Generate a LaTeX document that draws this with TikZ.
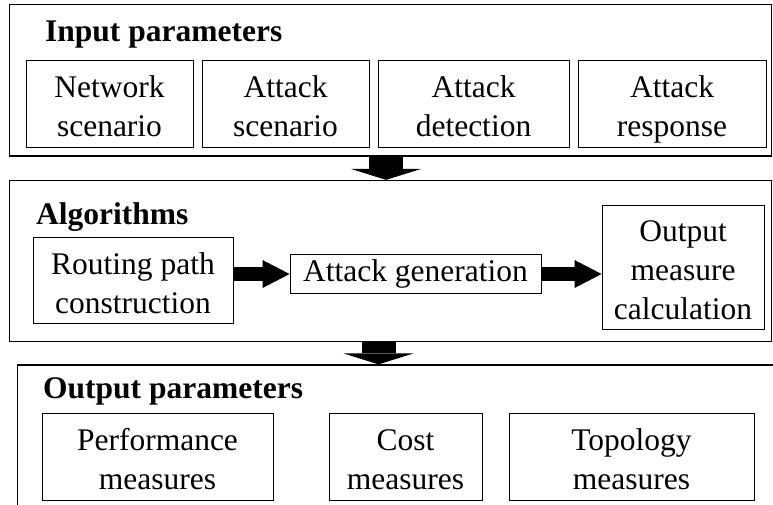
\documentclass[tikz,border=0pt]{standalone}
\usepackage{fontspec}
\setmainfont{Liberation Serif}
\usetikzlibrary{arrows.meta}
\newcommand\topst{\rule{0pt}{35pt}}
\newcommand\botst{\rule[-8pt]{0pt}{8pt}}
\begin{document}
\begin{tikzpicture}[x=1pt,y=-1pt,
  outerbox/.style={draw, line width=1.2pt, inner sep=0pt},
  inbox/.style={draw, line width=0.9pt, inner sep=0pt, align=center,
    font=\fontsize{31.5}{39}\selectfont},
  title/.style={anchor=base west, inner sep=0pt,
    font=\fontsize{31.5}{39}\selectfont\bfseries},
  bigdown/.style={line width=34pt,
    -{Triangle[width=70pt,length=11pt,line width=0pt]}},
  bigright/.style={line width=14pt,
    -{Triangle[width=28pt,length=27pt,line width=0pt]}}]
\useasboundingbox (0,0) rectangle (773,504);
\clip (0,0) rectangle (773,504);

% Input parameters
\node[outerbox, minimum width=762pt, minimum height=151.5pt] (box1) at (390.5,80.25) {};
\node[title] (t1) at (45,41) {Input parameters};
\node[inbox, minimum width=167pt, minimum height=87pt] (net) at (109.5,103.5) {\topst Network\\scenario\botst};
\node[inbox, minimum width=167pt, minimum height=87pt] (asc) at (285.5,103.5) {\topst Attack\\scenario\botst};
\node[inbox, minimum width=191pt, minimum height=87pt] (adet) at (473.5,103.5) {\topst Attack\\detection\botst};
\node[inbox, minimum width=188pt, minimum height=87pt] (aresp) at (672,103.5) {\topst Attack\\response\botst};

% Algorithms
\node[outerbox, minimum width=762pt, minimum height=161pt] (box2) at (390.5,261) {};
\node[title] (t2) at (36,224) {Algorithms};
\node[inbox, minimum width=200pt, minimum height=86pt] (rout) at (133,280) {\topst Routing path\\construction\botst};
\node[inbox, minimum width=251pt, minimum height=39pt] (gen) at (415.5,274) {Attack generation};
\node[inbox, minimum width=162pt, minimum height=124pt] (outm) at (683,267) {\topst Output\\measure\\calculation\botst};

% Output parameters
\node[outerbox, minimum width=790pt, minimum height=160pt] (box3) at (412.3,445) {};
\node[title] (t3) at (43,398) {Output parameters};
\node[inbox, minimum width=231pt, minimum height=87pt] (perf) at (157.5,456.5) {\topst Performance\\measures\botst};
\node[inbox, minimum width=153pt, minimum height=87pt] (cost) at (405.5,456.5) {\topst Cost\\measures\botst};
\node[inbox, minimum width=245pt, minimum height=87pt] (topo) at (631.5,456.5) {\topst Topology\\measures\botst};

% connectors
\draw[bigdown] ([xshift=-4.5pt]box1.south) -- ([xshift=-4.5pt]box1.south |- box2.north);
\draw[bigdown] ([xshift=-12pt]box2.south) -- ([xshift=-12pt]box2.south |- box3.north);
\draw[bigright] (rout.east |- gen.west) -- (gen.west);
\draw[bigright] (gen.east) -- (gen.east -| outm.west);
\end{tikzpicture}
\end{document}
